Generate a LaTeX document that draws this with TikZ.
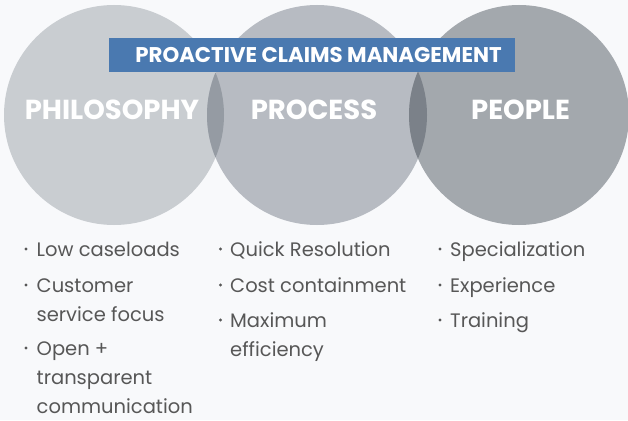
\documentclass[tikz,border=0pt]{standalone}
\usepackage{fontspec}
\setmainfont{Poppins}
\definecolor{bg}{HTML}{F8F9FB}
\definecolor{cA}{HTML}{C9CDD1}
\definecolor{cB}{HTML}{B7BBC2}
\definecolor{cC}{HTML}{A3A8AD}
\definecolor{oAB}{HTML}{959BA3}
\definecolor{oBC}{HTML}{7B8189}
\definecolor{banner}{HTML}{4A79B0}
\definecolor{txt}{HTML}{575757}
\tikzset{
  circlabel/.style={text=white, font=\bfseries\fontsize{27.5}{30}\selectfont, anchor=base, inner sep=0pt},
  bullettext/.style={text=txt, font=\fontsize{19.5}{29}\selectfont, anchor=base west, align=left, inner sep=0pt},
  dotmark/.style={circle, fill=txt, inner sep=0pt, minimum size=3.4pt},
}
\begin{document}
\begin{tikzpicture}[x=1pt,y=-1pt]
\useasboundingbox (0,0) rectangle (628,420);
\fill[bg] (0,0) rectangle (628,420);
% circles
\fill[cA] (114,115) circle (110);
\fill[cB] (317,115) circle (110);
\fill[cC] (519,115) circle (110);
\begin{scope}
  \clip (114,115) circle (110);
  \fill[oAB] (317,115) circle (110);
\end{scope}
\begin{scope}
  \clip (317,115) circle (110);
  \fill[oBC] (519,115) circle (110);
\end{scope}
% banner
\node[fill=banner, minimum width=406, minimum height=34, inner sep=0pt] (bar) at (312,55) {};
\node[text=white, anchor=base, inner sep=0pt,
  font=\bfseries\fontsize{21.3}{24}\selectfont] (title) at (318.5,62.5) {PROACTIVE CLAIMS MANAGEMENT};
% circle labels
\node[circlabel] (phil) at (112,119.5) {PHILOSOPHY};
\node[circlabel] (proc) at (314,119.5) {PROCESS};
\node[circlabel] (peop) at (520.5,119.5) {PEOPLE};
% bullets column 1 (multi-line nodes anchored at last line's baseline)
\node[dotmark] (d1a) at (26,249) {};
\node[bullettext] (t1a) at (36.5,256) {Low caseloads};
\node[dotmark] (d1b) at (26,285) {};
\node[bullettext] (t1b) at (36.5,321) {Customer\\service focus};
\node[dotmark] (d1c) at (26,348) {};
\node[bullettext] (t1c) at (36.5,413) {Open +\\transparent\\communication};
% column 2
\node[dotmark] (d2a) at (220.5,249) {};
\node[bullettext] (t2a) at (230,256) {Quick Resolution};
\node[dotmark] (d2b) at (220.5,285) {};
\node[bullettext] (t2b) at (230,292) {Cost containment};
\node[dotmark] (d2c) at (220.5,320) {};
\node[bullettext] (t2c) at (230,356) {Maximum\\efficiency};
% column 3
\node[dotmark] (d3a) at (440,249) {};
\node[bullettext] (t3a) at (450,256) {Specialization};
\node[dotmark] (d3b) at (440,285) {};
\node[bullettext] (t3b) at (450,292) {Experience};
\node[dotmark] (d3c) at (440,320) {};
\node[bullettext] (t3c) at (450,327) {Training};
\end{tikzpicture}
\end{document}
